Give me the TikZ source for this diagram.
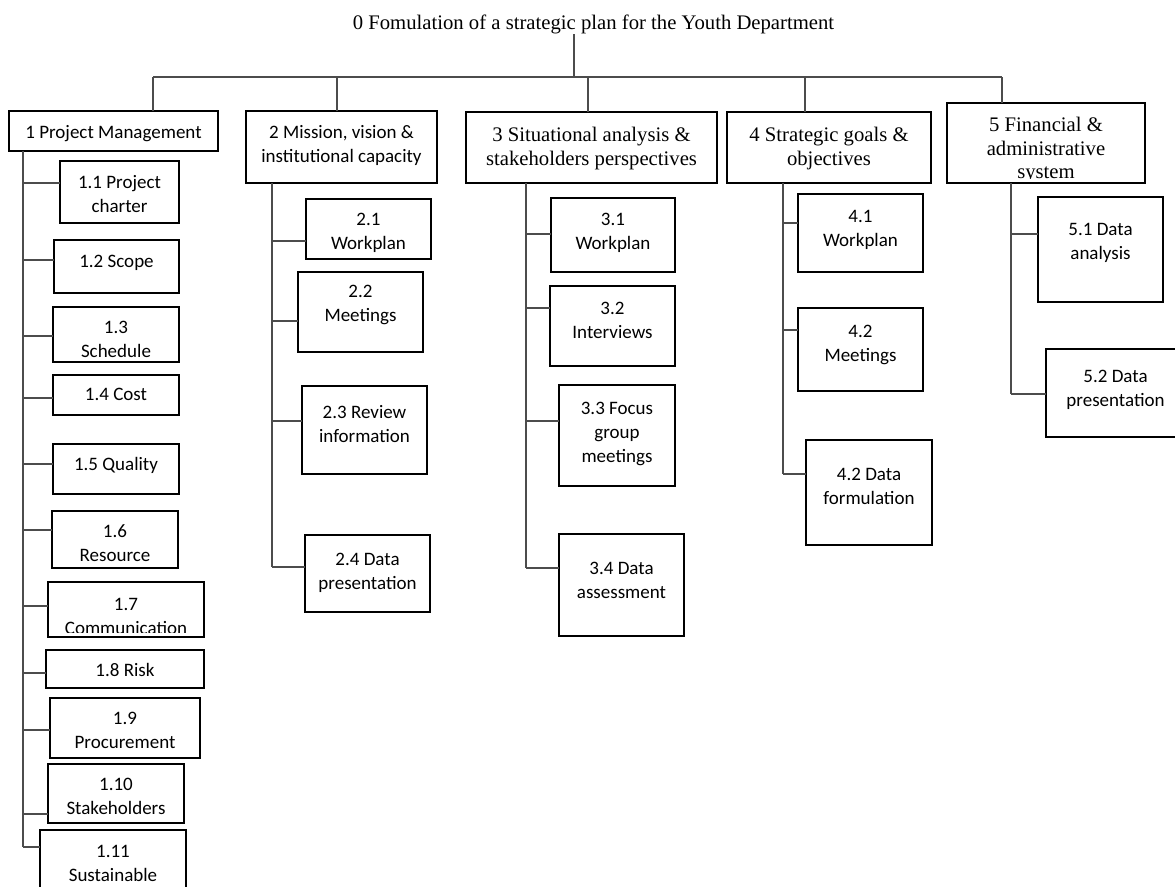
\documentclass[tikz,border=0pt]{standalone}
\usepackage{fontspec}
\newfontfamily\calfont{Carlito}
\newfontfamily\tnrfont{Liberation Serif}
\begin{document}
\begin{tikzpicture}[x=1pt,y=-1pt,
  box/.style={draw=black, line width=1.8pt, inner sep=0pt, outer sep=0pt},
  cal/.style={font=\calfont\fontsize{19}{24}\selectfont, align=center, inner sep=0pt, anchor=north},
  tms/.style={font=\tnrfont\fontsize{20.7}{23.5}\selectfont, align=center, inner sep=0pt, anchor=north},
  link/.style={draw=black!70, line width=1.2pt}]

% #1 text style, #2 name, #3-#6 corners (x1,y1,x2,y2), #7 top of first text line, #8 text
\newcommand\wbs[8]{%
  \node[box, minimum width={(#5)-(#3)}, minimum height={(#6)-(#4)}] (#2)
    at ({((#3)+(#5))/2},{((#4)+(#6))/2}) {};
  \begin{scope}
    \clip ({(#3)+2},{(#4)+2}) rectangle ({(#5)-2},{(#6)-4.5});
    \node[#1] (#2-t) at ({((#3)+(#5))/2},#7) {#8};
  \end{scope}%
}

\useasboundingbox (0,0) rectangle (1175,886);
\clip (0,0) rectangle (1175,886);

% root
\node[tms] (root) at (593.5,15) {0 Fomulation of a strategic plan for the Youth Department};

% level 1
\wbs{cal}{b1}{9}{111}{218}{151}{125}{1 Project Management}
\wbs{cal}{b2}{246}{111}{437}{183}{125}{2 Mission, vision \&\\institutional capacity}
\wbs{tms}{b3}{466}{112}{717}{183}{127}{3 Situational analysis \&\\stakeholders perspectives}
\wbs{tms}{b4}{727}{112}{931}{183}{127}{4 Strategic goals \&\\objectives}
\wbs{tms}{b5}{947}{103}{1145}{183}{117}{5 Financial \&\\administrative\\system}

% bus from the root to the five branches
\coordinate (bus-l) at (153,77);
\coordinate (bus-r) at (1002,77);
\draw[link] (root.south -| 574,0) -- (574,77);
\draw[link] (bus-l) -- (bus-r);
\draw[link] (b1.north -| bus-l) -- (bus-l);
\draw[link] ([xshift=-4.5pt]b2.north) -- ([xshift=-4.5pt]b2.north |- bus-l);
\draw[link] ([xshift=-3.5pt]b3.north) -- ([xshift=-3.5pt]b3.north |- bus-l);
\draw[link] ([xshift=-24pt]b4.north) -- ([xshift=-24pt]b4.north |- bus-l);
\draw[link] (b5.north -| bus-r) -- (bus-r);

% branch 1
\wbs{cal}{b11}{60}{161}{179}{223}{175}{1.1 Project\\charter}
\wbs{cal}{b12}{54}{240}{179}{293}{255}{1.2 Scope}
\wbs{cal}{b13}{53}{307}{179}{362}{321}{1.3\\Schedule}
\wbs{cal}{b14}{53}{375}{179}{415}{388}{1.4 Cost}
\wbs{cal}{b15}{53}{444}{179}{494}{457}{1.5 Quality}
\wbs{cal}{b16}{52}{511}{178}{568}{524}{1.6\\Resource}
\wbs{cal}{b17}{48}{582}{204}{637}{598}{1.7\\Communication}
\wbs{cal}{b18}{46}{650}{204}{688}{663}{1.8 Risk}
\wbs{cal}{b19}{50}{698}{200}{758}{712}{1.9\\Procurement}
\wbs{cal}{b110}{48}{764}{184}{823}{778}{1.10\\Stakeholders}
\wbs{cal}{b111}{40}{830}{186}{905}{845}{1.11\\Sustainable}

\coordinate (sp1) at (b1.south -| 23,0);
\foreach \n/\y in {b11/183,b12/260,b13/336,b14/398,b15/464,b16/530,b17/606,b18/673,b19/730,b110/814,b111/847}
  \coordinate (\n-in) at (\n.west |- 0,\y);
\draw[link] (sp1) -- (sp1 |- b111-in);
\foreach \n in {b11,b12,b13,b14,b15,b16,b17,b18,b19,b110,b111}
  \draw[link] (sp1 |- \n-in) -- (\n-in);

% branch 2
\wbs{cal}{b21}{306}{199}{431}{259}{213}{2.1\\Workplan}
\wbs{cal}{b22}{298}{272}{423}{352}{285}{2.2\\Meetings}
\wbs{cal}{b23}{302}{386}{427}{474}{405}{2.3 Review\\information}
\wbs{cal}{b24}{305}{535}{430}{612}{553}{2.4 Data\\presentation}

\coordinate (sp2) at (b2.south -| 272,0);
\foreach \n/\y in {b21/241,b22/321,b23/421,b24/567}
  \coordinate (\n-in) at (\n.west |- 0,\y);
\draw[link] (sp2) -- (sp2 |- b24-in);
\foreach \n in {b21,b22,b23,b24}
  \draw[link] (sp2 |- \n-in) -- (\n-in);

% branch 3
\wbs{cal}{b31}{551}{198}{675}{272}{213}{3.1\\Workplan}
\wbs{cal}{b32}{550}{286}{675}{366}{302}{3.2\\Interviews}
\wbs{cal}{b33}{559}{385}{675}{486}{402}{3.3 Focus\\group\\meetings}
\wbs{cal}{b34}{559}{534}{684}{636}{562}{3.4 Data\\assessment}

\coordinate (sp3) at (b3.south -| 526,0);
\foreach \n/\y in {b31/234,b32/308,b33/421,b34/568}
  \coordinate (\n-in) at (\n.west |- 0,\y);
\draw[link] (sp3) -- (sp3 |- b34-in);
\foreach \n in {b31,b32,b33,b34}
  \draw[link] (sp3 |- \n-in) -- (\n-in);

% branch 4
\wbs{cal}{b41}{798}{194}{923}{272}{210}{4.1\\Workplan}
\wbs{cal}{b42}{798}{308}{923}{391}{325}{4.2\\Meetings}
\wbs{cal}{b43}{806}{440}{932}{545}{468}{4.2 Data\\formulation}

\coordinate (sp4) at (b4.south -| 783,0);
\foreach \n/\y in {b41/223,b42/330,b43/474}
  \coordinate (\n-in) at (\n.west |- 0,\y);
\draw[link] (sp4) -- (sp4 |- b43-in);
\foreach \n in {b41,b42,b43}
  \draw[link] (sp4 |- \n-in) -- (\n-in);

% branch 5
\wbs{cal}{b51}{1038}{197}{1163}{302}{223}{5.1 Data\\analysis}
\wbs{cal}{b52}{1046}{349}{1185}{437}{370}{5.2 Data\\presentation}

\coordinate (sp5) at (b5.south -| 1011,0);
\foreach \n/\y in {b51/234,b52/394}
  \coordinate (\n-in) at (\n.west |- 0,\y);
\draw[link] (sp5) -- (sp5 |- b52-in);
\foreach \n in {b51,b52}
  \draw[link] (sp5 |- \n-in) -- (\n-in);

\end{tikzpicture}
\end{document}
